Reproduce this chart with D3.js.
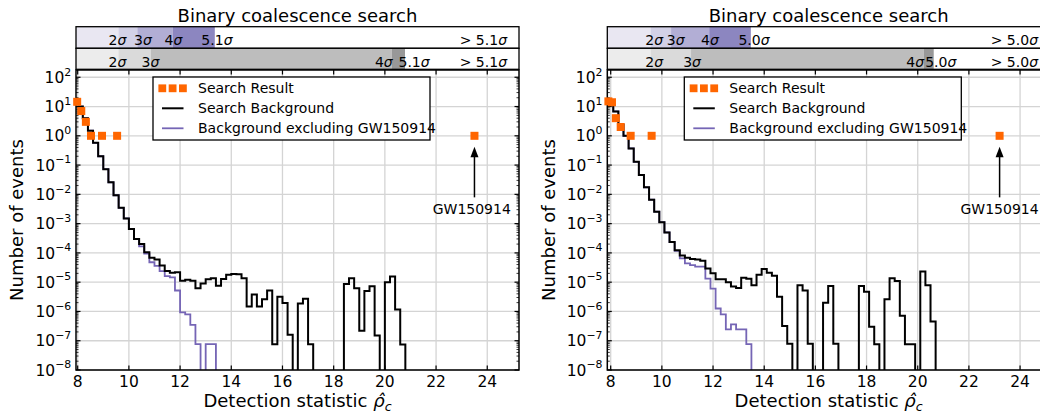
<!DOCTYPE html>
<html><head><meta charset="utf-8">
<script src="https://cdn.jsdelivr.net/npm/d3@7"></script>
<style>
body{margin:0;background:#fff;}
svg{display:block;font-family:"DejaVu Sans",sans-serif;}
</style>
</head><body>
<svg id="c" width="1040" height="415"></svg>
<script>
// ---------- data ----------
const binWidth = 0.2;
const xTicks = [8, 10, 12, 14, 16, 18, 20, 22, 24];
const yTickExps = [-8, -7, -6, -5, -4, -3, -2, -1, 0, 1, 2];
const sigmaNames = ["2", "3", "4"];

// left panel
const leftBinStart = 8.0;
const leftBackground = [10, 4.0, 1.5, 0.575, 0.2, 0.0724, 0.0257, 0.00933, 0.00347, 0.00151, 6.6e-4, 3.0e-4, 2.0e-4, 1.05e-4, 6.8e-5, 6.0e-5, 3.7e-5, 2.4e-5, 2.1e-5, 2.2e-5, 1.12e-5, 1.2e-5, 1.12e-5, 6.2e-6, 9.1e-6, 1.26e-5, 1.35e-5, 7.6e-6, 1.29e-5, 1.78e-5, 1.9e-5, 1.86e-5, 1.35e-5, 1.48e-6, 3.8e-6, 1.48e-6, 2.6e-6, 5.2e-6, 7.6e-8, 3.2e-6, 1.95e-6, 1.6e-7, 0, 1.86e-6, 2.7e-6, 7.6e-8, 0, 0, 0, 0, 0, 0, 8.7e-6, 1.35e-5, 6.2e-6, 2.2e-7, 5.0e-6, 7.2e-6, 1.5e-7, 0, 1.0e-5, 1.55e-5, 1.17e-6, 7.4e-8];
const leftBgExcl = [10, 4.0, 1.5, 0.575, 0.2, 0.0724, 0.0257, 0.00933, 0.00347, 0.00151, 6.6e-4, 3.0e-4, 1.66e-4, 9.5e-5, 4.8e-5, 3.6e-5, 2.4e-5, 1.62e-5, 1.45e-5, 5.2e-6, 9.3e-7, 7.9e-7, 3.5e-7, 7.6e-8, 0, 7.6e-8, 7.6e-8];
const leftResultX = [7.98, 8.14, 8.32, 8.52, 8.95, 9.54, 23.5];
const leftResultY = [14.5, 7, 3, 1, 1, 1, 1];
const leftSigmaMax = "5.1";
const leftBandTop = [9.59, 10.33, 11.71, 13.36];
const leftBandBottom = [9.59, 10.86, 20.27, 20.79];
const leftLabelTop = [9.555, 10.55, 11.74, 13.44];
const leftLabelBottom = [9.555, 10.84, 19.96, 21.14];

// right panel
const rightBinStart = 7.9;
const rightBackground = [12.6, 6.8, 2.4, 1.0, 0.372, 0.129, 0.0457, 0.0174, 0.0066, 0.00257, 0.00112, 5.0e-4, 2.34e-4, 1.23e-4, 8.1e-5, 6.8e-5, 6.2e-5, 5.9e-5, 5.4e-5, 2.95e-5, 2.0e-5, 1.26e-5, 1.26e-5, 1.0e-5, 7.1e-6, 6.3e-6, 1.41e-5, 1.32e-5, 7.9e-6, 1.78e-5, 2.8e-5, 2.1e-5, 1.66e-5, 3.2e-6, 3.2e-7, 7.9e-8, 0, 7.9e-6, 5.2e-6, 7.9e-8, 0, 0, 2.0e-6, 7.4e-6, 7.9e-8, 0, 0, 0, 0, 7.4e-6, 4.7e-6, 3.0e-7, 7.6e-8, 0, 2.6e-6, 1.35e-5, 1.1e-5, 7.1e-7, 7.6e-8, 7.6e-8, 0, 2.3e-5, 7.9e-6, 4.5e-7];
const rightBgExcl = [12.6, 6.8, 2.4, 1.0, 0.372, 0.129, 0.0457, 0.0174, 0.0066, 0.00257, 0.00112, 5.0e-4, 2.34e-4, 1.17e-4, 6.5e-5, 4.4e-5, 3.8e-5, 3.4e-5, 3.4e-5, 1.32e-5, 6.0e-6, 1.26e-6, 7.9e-7, 2.45e-7, 3.6e-7, 2.45e-7, 2.45e-7, 7.6e-8];
const rightResultX = [7.91, 8.05, 8.2, 8.39, 8.78, 9.6, 23.2];
const rightResultY = [15, 14, 4, 2, 1, 1, 1];
const rightSigmaMax = "5.0";
const rightBandTop = [9.56, 10.36, 11.85, 13.48];
const rightBandBottom = [9.56, 11.14, 20.24, 20.63];
const rightLabelTop = [9.7, 10.54, 11.88, 13.6];
const rightLabelBottom = [9.7, 11.18, 19.9, 20.9];

const gwName = "GW150914";
const gwArrowTip = 0.42, gwArrowTail = 0.0079, gwTextY = 0.0021;

const legendLabels = ["Search Result", "Search Background", "Background excluding GW150914"];

// ---------- style ----------
const purpleShades = ["#e9e7f2", "#d3d1e7", "#b2aed5", "#8c86c0", "#ffffff"];
const greyShades = ["#ececec", "#dadada", "#bdbdbd", "#989898", "#ffffff"];
const orange = "#ff6600", purple = "#7565b5";
const yTop = 70, yBot = 370;

const svg = d3.select("#c");
const defs = svg.append("defs");

function sigmaText(sel, num, prefix) {
  if (prefix) sel.append("tspan").text(prefix);
  sel.append("tspan").text(num);
  sel.append("tspan").attr("font-style", "italic").text("σ");
}

function drawPanel(cfg, idx) {
  const x = d3.scaleLinear().domain(cfg.xDomain).range([cfg.x0, cfg.x1]);
  const y = d3.scaleLog().domain([1e-8, 177]).range([yBot, yTop]);
  const g = svg.append("g");
  const clipId = "clip" + idx;
  defs.append("clipPath").attr("id", clipId).append("rect")
    .attr("x", cfg.x0).attr("y", yTop).attr("width", cfg.x1 - cfg.x0).attr("height", yBot - yTop);

  // title
  g.append("text").attr("x", (cfg.x0 + cfg.x1) / 2).attr("y", 21.5)
    .attr("text-anchor", "middle").attr("font-size", 18).text("Binary coalescence search");

  // bands
  const rows = [
    {y0: 26.7, y1: 48.3, b: cfg.bandTop, lab: cfg.labelTop, shades: purpleShades, base: 45},
    {y0: 48.3, y1: 69.3, b: cfg.bandBottom, lab: cfg.labelBottom, shades: greyShades, base: 66.5}
  ];
  rows.forEach(r => {
    const edges = [cfg.xDomain[0], ...r.b, cfg.xDomain[1]];
    for (let i = 0; i < edges.length - 1; i++) {
      g.append("rect").attr("x", x(edges[i])).attr("y", r.y0)
        .attr("width", x(edges[i + 1]) - x(edges[i])).attr("height", r.y1 - r.y0)
        .attr("fill", r.shades[i]);
    }
    g.append("rect").attr("x", cfg.x0).attr("y", r.y0).attr("width", cfg.x1 - cfg.x0)
      .attr("height", r.y1 - r.y0).attr("fill", "none").attr("stroke", "#000").attr("stroke-width", 1.3);
    const names = [...sigmaNames, cfg.sigmaMax];
    r.lab.forEach((lx, i) => {
      const t = g.append("text").attr("x", x(lx)).attr("y", r.base).attr("text-anchor", "middle").attr("font-size", 14);
      sigmaText(t, names[i]);
    });
    const t = g.append("text").attr("x", cfg.x1 - 12).attr("y", r.base).attr("text-anchor", "end").attr("font-size", 14);
    sigmaText(t, cfg.sigmaMax, "> ");
  });

  // grid
  const grid = g.append("g").attr("stroke", "#d4d4d4").attr("stroke-width", 1.3);
  xTicks.forEach(v => grid.append("line").attr("x1", x(v)).attr("x2", x(v)).attr("y1", yTop).attr("y2", yBot));
  yTickExps.forEach(e => grid.append("line").attr("x1", cfg.x0).attr("x2", cfg.x1).attr("y1", y(Math.pow(10, e))).attr("y2", y(Math.pow(10, e))));

  // histograms
  const line = d3.line().x(d => x(d[0])).y(d => y(d[1]));
  function stepPts(start, vals) {
    const pts = [];
    vals.forEach((v, i) => {
      const lo = start + i * binWidth, hi = lo + binWidth;
      const vv = v > 0 ? v : 1e-12;
      pts.push([lo, vv], [hi, vv]);
    });
    pts.push([start + vals.length * binWidth, 1e-12]);
    return pts;
  }
  const hg = g.append("g").attr("clip-path", `url(#${clipId})`);
  hg.append("path").attr("d", line(stepPts(cfg.binStart, cfg.bgEx))).attr("fill", "none")
    .attr("stroke", purple).attr("stroke-width", 1.8).attr("stroke-linejoin", "miter");
  hg.append("path").attr("d", line(stepPts(cfg.binStart, cfg.bg))).attr("fill", "none")
    .attr("stroke", "#000").attr("stroke-width", 2).attr("stroke-linejoin", "miter");

  // ticks
  const minors = [];
  for (let e = -8; e <= 2; e++) for (let m = 2; m <= 9; m++) { const v = m * Math.pow(10, e); if (v <= 177) minors.push(v); }
  const majors = yTickExps.map(e => Math.pow(10, e));
  const tk = g.append("g").attr("stroke", "#000");
  majors.forEach(v => {
    tk.append("line").attr("x1", cfg.x0).attr("x2", cfg.x0 + 4.5).attr("y1", y(v)).attr("y2", y(v)).attr("stroke-width", 1.2);
    tk.append("line").attr("x1", cfg.x1).attr("x2", cfg.x1 - 4.5).attr("y1", y(v)).attr("y2", y(v)).attr("stroke-width", 1.2);
  });
  minors.forEach(v => {
    tk.append("line").attr("x1", cfg.x0).attr("x2", cfg.x0 + 2.5).attr("y1", y(v)).attr("y2", y(v)).attr("stroke-width", 0.8);
    tk.append("line").attr("x1", cfg.x1).attr("x2", cfg.x1 - 2.5).attr("y1", y(v)).attr("y2", y(v)).attr("stroke-width", 0.8);
  });
  xTicks.forEach(v => {
    tk.append("line").attr("x1", x(v)).attr("x2", x(v)).attr("y1", yBot).attr("y2", yBot - 4.5).attr("stroke-width", 1.2);
    tk.append("line").attr("x1", x(v)).attr("x2", x(v)).attr("y1", yTop).attr("y2", yTop + 4.5).attr("stroke-width", 1.2);
  });

  // spines
  g.append("rect").attr("x", cfg.x0).attr("y", yTop).attr("width", cfg.x1 - cfg.x0).attr("height", yBot - yTop)
    .attr("fill", "none").attr("stroke", "#000").attr("stroke-width", 1.5);

  // tick labels
  xTicks.forEach(v => g.append("text").attr("x", x(v)).attr("y", 387).attr("text-anchor", "middle")
    .attr("font-size", 15.5).text(v));
  yTickExps.forEach(e => {
    const t = g.append("text").attr("x", cfg.x0 - 4.8).attr("y", y(Math.pow(10, e)) + 5.6)
      .attr("text-anchor", "end").attr("font-size", 15.5);
    t.append("tspan").text("10");
    t.append("tspan").attr("dy", -7.3).attr("font-size", 10.9).text(e < 0 ? "\u2212" + (-e) : String(e));
  });

  // axis labels
  g.append("text").attr("transform", `translate(${cfg.x0 - 52.7},${(yTop + yBot) / 2}) rotate(-90)`)
    .attr("text-anchor", "middle").attr("font-size", 18).text("Number of events");
  const xl = g.append("text").attr("x", (cfg.x0 + cfg.x1) / 2).attr("y", 406.7).attr("text-anchor", "middle").attr("font-size", 18);
  xl.append("tspan").text("Detection statistic ");
  xl.append("tspan").attr("font-style", "italic").text("\u03C1\u0302");
  xl.append("tspan").attr("font-style", "italic").attr("font-size", 12.6).attr("dy", 4).text("c");

  // search results
  g.append("g").selectAll("rect").data(cfg.resX.map((v, i) => [v, cfg.resY[i]])).join("rect")
    .attr("x", d => x(d[0]) - 4).attr("y", d => y(d[1]) - 4).attr("width", 8).attr("height", 8).attr("fill", orange);

  // GW annotation
  const gx = x(cfg.resX[cfg.resX.length - 1]);
  const tipY = y(gwArrowTip), tailY = y(gwArrowTail);
  g.append("line").attr("x1", gx).attr("x2", gx).attr("y1", tailY).attr("y2", tipY + 9).attr("stroke", "#000").attr("stroke-width", 1.5);
  g.append("path").attr("d", `M${gx},${tipY} L${gx - 4},${tipY + 10.5} L${gx + 4},${tipY + 10.5} Z`).attr("fill", "#000");
  g.append("text").attr("x", gx + cfg.gwTextDx).attr("y", y(gwTextY)).attr("text-anchor", "middle").attr("font-size", 14).text(gwName);

  // legend
  const lx = cfg.x0 + 77, ly = 77;
  g.append("rect").attr("x", lx).attr("y", ly).attr("width", 277).attr("height", 63)
    .attr("fill", "#fff").attr("stroke", "#000").attr("stroke-width", 1.3);
  [0, 1, 2].forEach(i => {
    const cy = 88.3 + 20 * i;
    if (i === 0) {
      [0, 10.3, 20.6].forEach(dx => g.append("rect").attr("x", lx + 9.3 + dx - 3.9).attr("y", cy - 3.9).attr("width", 7.8).attr("height", 7.8).attr("fill", orange));
    } else {
      g.append("line").attr("x1", lx + 9).attr("x2", lx + 30.5).attr("y1", cy).attr("y2", cy)
        .attr("stroke", i === 1 ? "#000" : purple).attr("stroke-width", i === 1 ? 2 : 1.8);
    }
    g.append("text").attr("x", lx + 45).attr("y", cy + 5).attr("font-size", 14).text(legendLabels[i]);
  });
}

drawPanel({x0: 76, x1: 519, xDomain: [7.934, 25.24], binStart: leftBinStart, bg: leftBackground, bgEx: leftBgExcl,
  resX: leftResultX, resY: leftResultY, sigmaMax: leftSigmaMax, bandTop: leftBandTop, bandBottom: leftBandBottom,
  labelTop: leftLabelTop, labelBottom: leftLabelBottom, gwTextDx: -2.7}, 0);
drawPanel({x0: 607.3, x1: 1050, xDomain: [7.867, 25.17], binStart: rightBinStart, bg: rightBackground, bgEx: rightBgExcl,
  resX: rightResultX, resY: rightResultY, sigmaMax: rightSigmaMax, bandTop: rightBandTop, bandBottom: rightBandBottom,
  labelTop: rightLabelTop, labelBottom: rightLabelBottom, gwTextDx: 0}, 1);
</script>
</body></html>
